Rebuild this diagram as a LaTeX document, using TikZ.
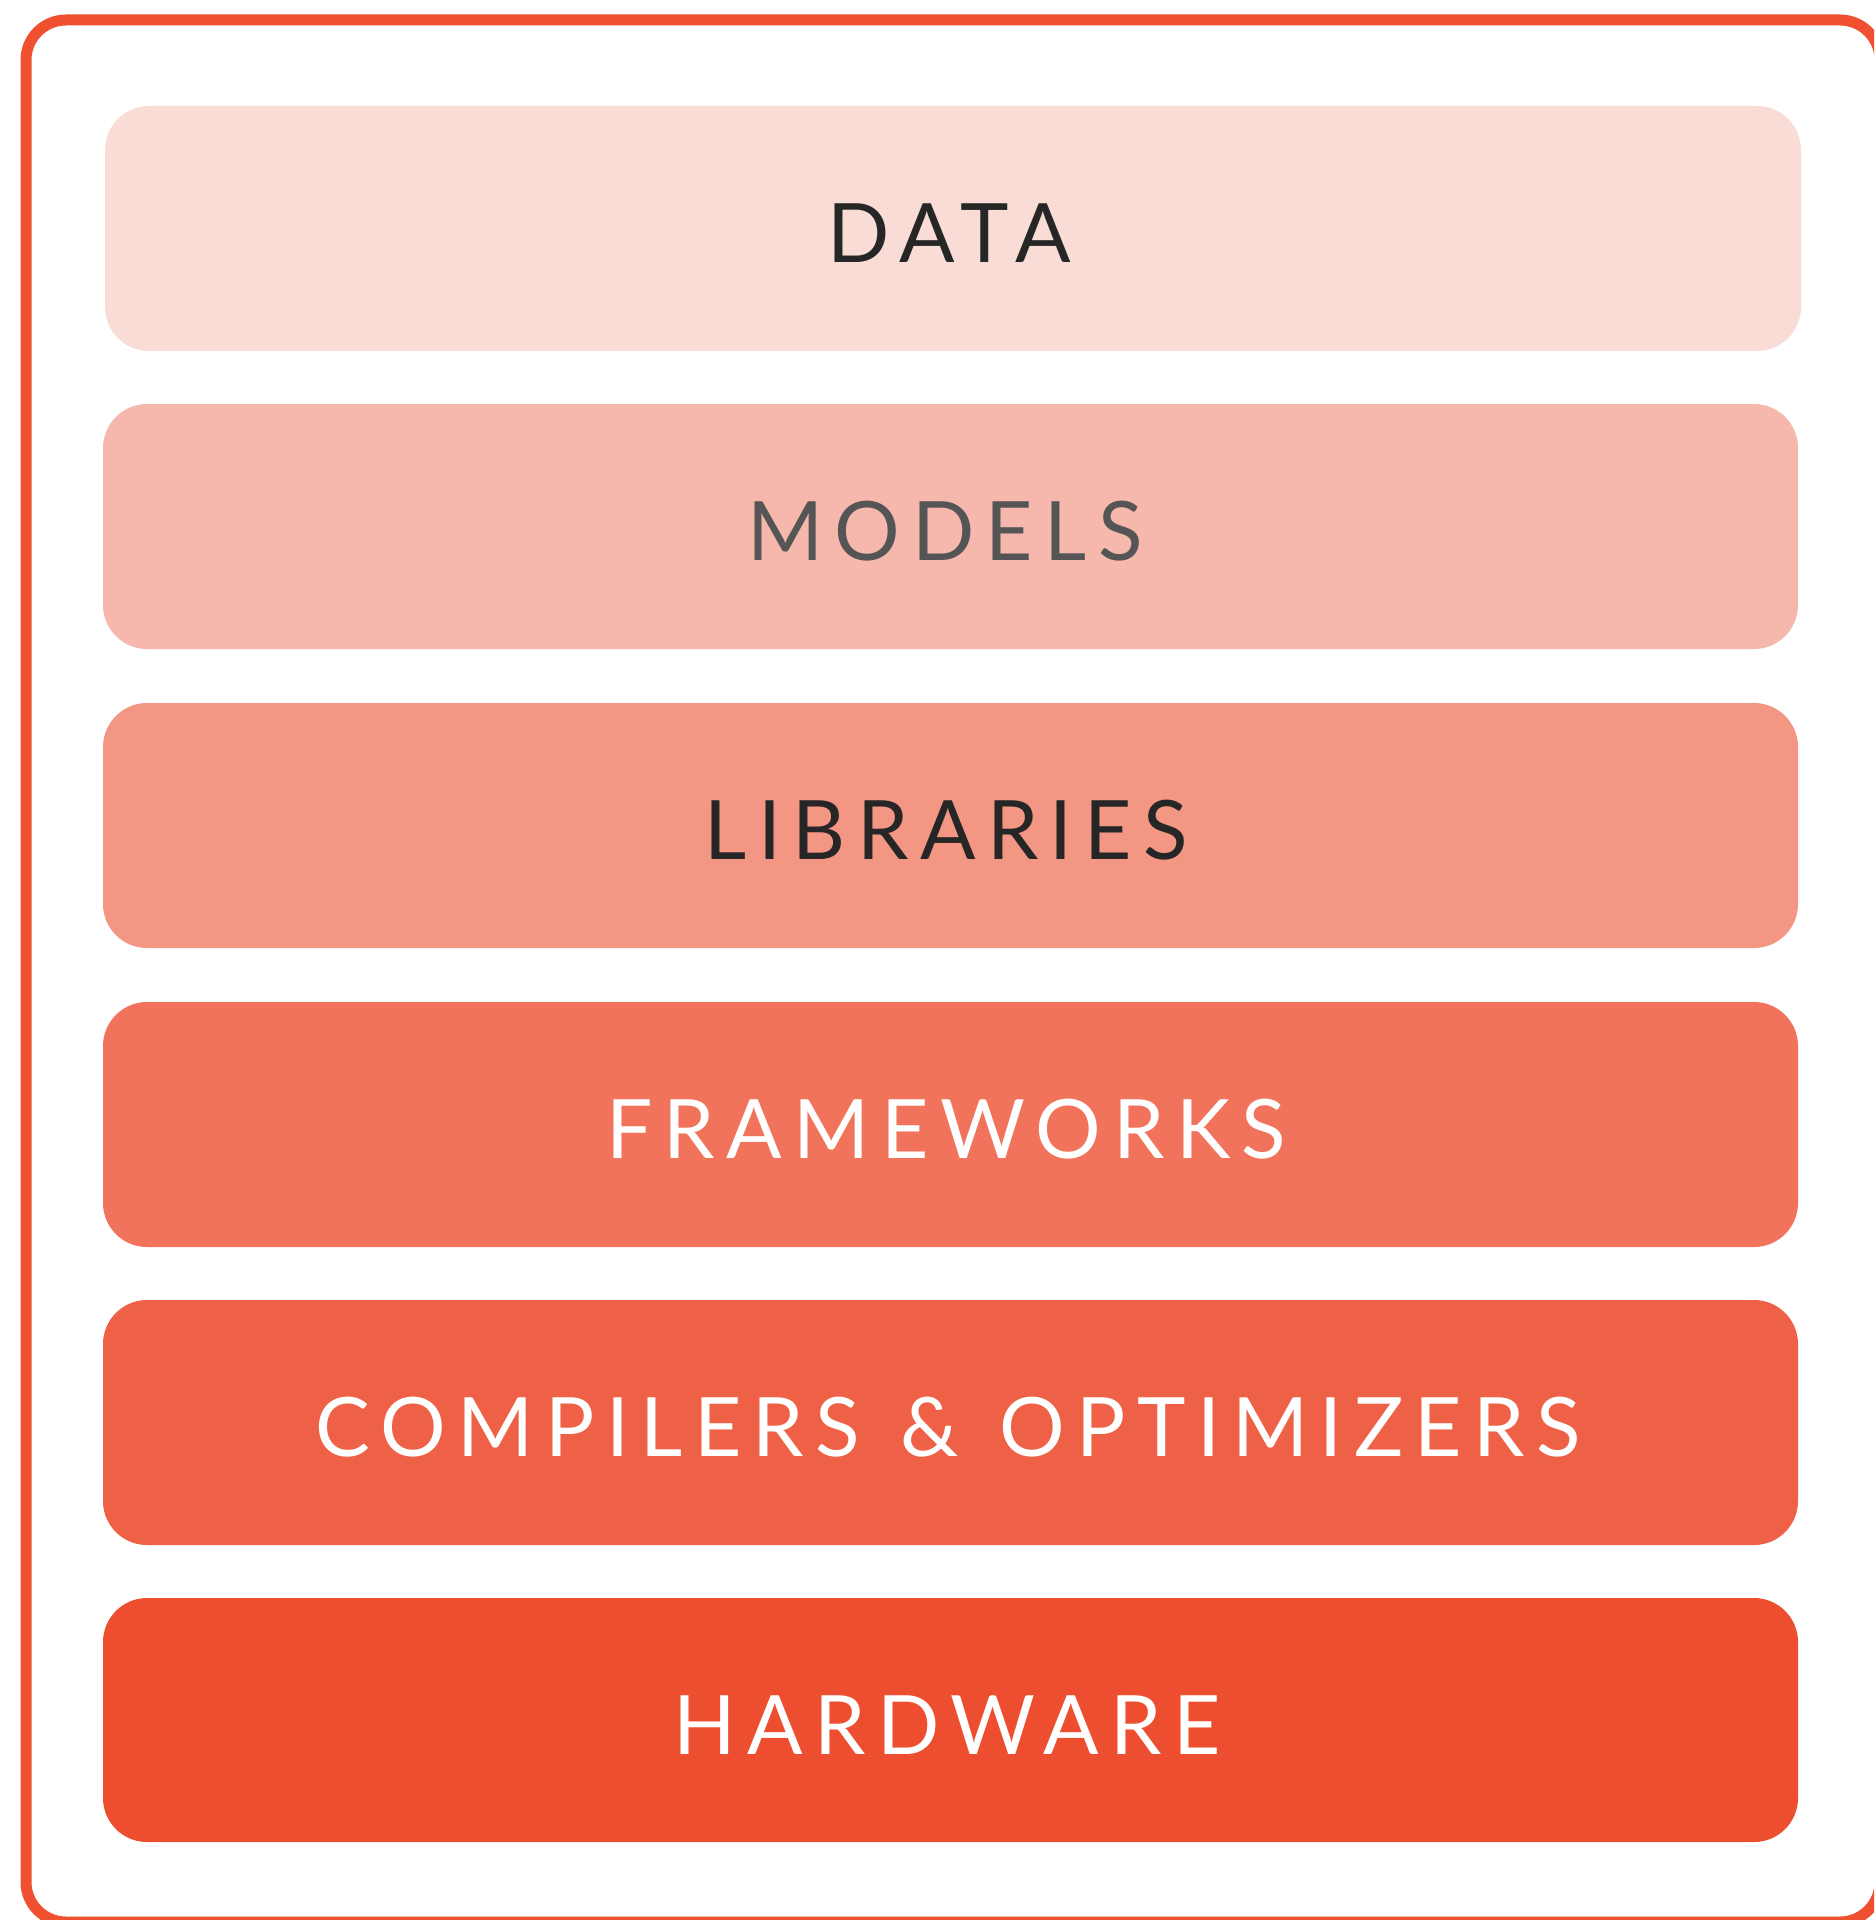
\documentclass[tikz,border=0pt]{standalone}
\usepackage{fontspec}
\newfontfamily\lbl[LetterSpace=14]{Lato}
\definecolor{frameC}{HTML}{EE5030}
\definecolor{cData}{HTML}{F9DCD6}
\definecolor{cModels}{HTML}{F6B8AC}
\definecolor{cLib}{HTML}{F39684}
\definecolor{cFw}{HTML}{F1735B}
\definecolor{cComp}{HTML}{EF6146}
\definecolor{cHw}{HTML}{EC4E2F}
\definecolor{darkT}{HTML}{262626}
\definecolor{grayT}{HTML}{555555}
\begin{document}
\begin{tikzpicture}[x=0.5pt,y=-0.5pt,
  layer/.style={rounded corners=22pt},
  lab/.style={font=\lbl\fontsize{41}{41}\selectfont, inner sep=0pt, anchor=center}]
\useasboundingbox (0,0) rectangle (1874,1920);
\begin{scope}
\clip (0,0) rectangle (1874,1920);
\draw[frameC, line width=5.5pt, rounded corners=20pt] (26,20) rectangle (1880,1922);
\end{scope}
\fill[cData, layer]   (105,106)  rectangle (1801,351);
\fill[cModels, layer] (103,404)  rectangle (1798,649);
\fill[cLib, layer]    (103,703)  rectangle (1798,948);
\fill[cFw, layer]     (103,1002) rectangle (1798,1247);
\fill[cComp, layer]   (103,1300) rectangle (1798,1545);
\fill[cHw, layer]     (103,1598) rectangle (1798,1842);
\node[lab, text=darkT] (data) at (949,233) {DATA};
\node[lab, text=grayT] (models) at (945,531) {MODELS};
\node[lab, text=darkT] (lib) at (946,830) {LIBRARIES};
\node[lab, text=white] (fw) at (946,1129) {FRAMEWORKS};
\node[lab, text=white] (comp) at (948,1427) {COMPILERS\hspace{4pt} \&\hspace{4pt} OPTIMIZERS};
\node[lab, text=white] (hw) at (947,1725) {HARDWARE};
\end{tikzpicture}
\end{document}
